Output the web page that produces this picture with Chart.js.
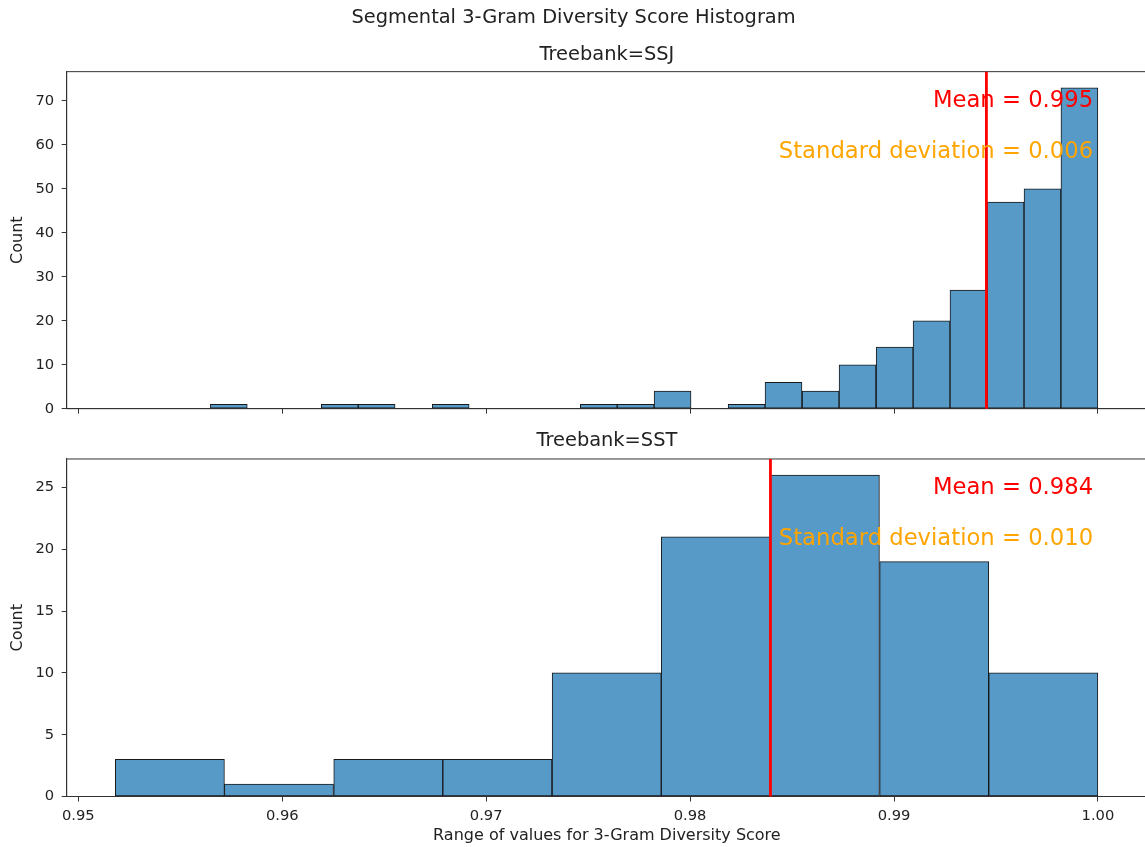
<!DOCTYPE html>
<html>
<head>
<meta charset="utf-8">
<script src="https://cdn.jsdelivr.net/npm/chart.js@4.4.1/dist/chart.umd.min.js"></script>
<style>
  html, body { margin: 0; padding: 0; background: #fff; overflow: hidden; width: 1145px; height: 847px; }
  canvas { position: absolute; left: 0; }
  #topChart { top: 0; }
  #bottomChart { top: 425px; }
</style>
</head>
<body>
<canvas id="topChart" width="1158" height="425"></canvas>
<canvas id="bottomChart" width="1158" height="422"></canvas>
<script>
// shared x ticks
const xTicks = [0.95, 0.96, 0.97, 0.98, 0.99, 1.00];

// Treebank=SSJ (bin centres, counts)
const ssjBins = [0.95738, 0.95919, 0.96101, 0.96282, 0.96463, 0.96645, 0.96826, 0.97007,
                 0.97189, 0.97370, 0.97552, 0.97733, 0.97914, 0.98096, 0.98277, 0.98458,
                 0.98640, 0.98821, 0.99003, 0.99184, 0.99365, 0.99547, 0.99728, 0.99909];
const ssjCounts = [1, 0, 0, 1, 1, 0, 1, 0, 0, 0, 1, 1, 4, 0, 1, 6, 4, 10, 14, 20, 27, 47, 50, 73];
const ssjTicks = [0, 10, 20, 30, 40, 50, 60, 70];
const ssjMean = 0.99453;
const ssjLabels = ["Mean = 0.995", "Standard deviation = 0.006"];

// Treebank=SST
const sstBins = [0.95449, 0.95984, 0.96520, 0.97055, 0.97591, 0.98126, 0.98661, 0.99197, 0.99732];
const sstCounts = [3, 1, 3, 3, 10, 21, 26, 19, 10];
const sstTicks = [0, 5, 10, 15, 20, 25];
const sstMean = 0.98394;
const sstLabels = ["Mean = 0.984", "Standard deviation = 0.010"];

Chart.defaults.font.family = "'DejaVu Sans', sans-serif";
Chart.defaults.color = '#222';

const FONT = "'DejaVu Sans', sans-serif";

// frame, mean line and the two annotation texts
const statsPlugin = {
  id: 'stats',
  afterDatasetsDraw(chart, args, opts) {
    const ctx = chart.ctx;
    const a = chart.chartArea;
    const x = chart.scales.x;
    ctx.save();
    ctx.strokeStyle = '#333';
    ctx.lineWidth = 1;
    ctx.strokeRect(a.left, a.top, a.right - a.left, a.bottom - a.top);

    const px = x.getPixelForValue(opts.mean);
    ctx.strokeStyle = '#ff0000';
    ctx.lineWidth = 2.8;
    ctx.beginPath();
    ctx.moveTo(px, a.top);
    ctx.lineTo(px, a.bottom);
    ctx.stroke();

    const w = a.right - a.left, h = a.bottom - a.top;
    ctx.font = '22.7px ' + FONT;
    ctx.textAlign = 'right';
    ctx.textBaseline = 'alphabetic';
    ctx.fillStyle = '#ff0000';
    ctx.fillText(opts.labels[0], a.left + 0.95 * w, a.bottom - 0.895 * h);
    ctx.fillStyle = '#ffa500';
    ctx.fillText(opts.labels[1], a.left + 0.95 * w, a.bottom - 0.745 * h);
    ctx.restore();
  }
};

function makeChart(id, bins, counts, yMax, yTicks, mean, labels, cfg) {
  const ctx = document.getElementById(id).getContext('2d');
  return new Chart(ctx, {
    type: 'bar',
    data: {
      datasets: [{
        data: bins.map((b, i) => ({ x: b, y: counts[i] })),
        backgroundColor: '#5799c7',
        borderColor: 'rgba(0,0,0,0.9)',
        borderWidth: 1,
        borderSkipped: false,
        barPercentage: 1,
        categoryPercentage: 1
      }]
    },
    options: {
      responsive: false,
      animation: false,
      devicePixelRatio: 1,
      layout: { padding: { left: 0, right: 10.9, top: 0, bottom: 0 } },
      plugins: {
        legend: { display: false },
        tooltip: { enabled: false },
        title: cfg.title,
        subtitle: cfg.subtitle || { display: false },
        stats: { mean: mean, labels: labels }
      },
      scales: {
        x: {
          type: 'linear',
          position: 'bottom',
          min: 0.94943,
          max: 1.00241,
          offset: false,
          afterBuildTicks: s => { s.ticks = xTicks.map(v => ({ value: v })); },
          afterFit: s => { s.height = cfg.xHeight; },
          grid: { offset: false, drawOnChartArea: false, drawTicks: true, tickLength: 5, color: '#333' },
          border: { color: '#333', width: 1 },
          ticks: {
            display: cfg.showXLabels,
            font: { size: 14.7 },
            padding: 5.5,
            maxRotation: 0,
            autoSkip: false,
            callback: v => v.toFixed(2)
          },
          title: cfg.xTitle || { display: false }
        },
        y: {
          type: 'linear',
          min: 0,
          max: yMax,
          afterBuildTicks: s => { s.ticks = yTicks.map(v => ({ value: v })); },
          afterFit: s => { s.width = 66.7; },
          grid: { drawOnChartArea: false, drawTicks: true, tickLength: 5, color: '#333' },
          border: { color: '#333', width: 1 },
          ticks: { font: { size: 14.7 }, padding: 7.5 },
          title: { display: true, text: 'Count', font: { size: 16 }, padding: { top: 8.4, bottom: 0 } }
        }
      }
    },
    plugins: [statsPlugin]
  });
}

makeChart('topChart', ssjBins, ssjCounts, 76.65, ssjTicks, ssjMean, ssjLabels, {
  title: {
    display: true,
    text: 'Segmental 3-Gram Diversity Score Histogram',
    font: { size: 19.4, weight: 'normal' },
    padding: { top: 5.9, bottom: 0 }
  },
  subtitle: {
    display: true,
    text: 'Treebank=SSJ',
    fullSize: false,
    font: { size: 19.4, weight: 'normal' },
    color: '#222',
    padding: { top: 13.7, bottom: 5.5 }
  },
  showXLabels: false,
  xHeight: 15.7
});

makeChart('bottomChart', sstBins, sstCounts, 27.3, sstTicks, sstMean, sstLabels, {
  title: {
    display: true,
    text: 'Treebank=SST',
    fullSize: false,
    font: { size: 19.4, weight: 'normal' },
    padding: { top: 4.36, bottom: 6.34 }
  },
  showXLabels: true,
  xHeight: 50.5,
  xTitle: {
    display: true,
    text: 'Range of values for 3-Gram Diversity Score',
    font: { size: 16 },
    padding: { top: 0, bottom: 1.4 }
  }
});
</script>
</body>
</html>
